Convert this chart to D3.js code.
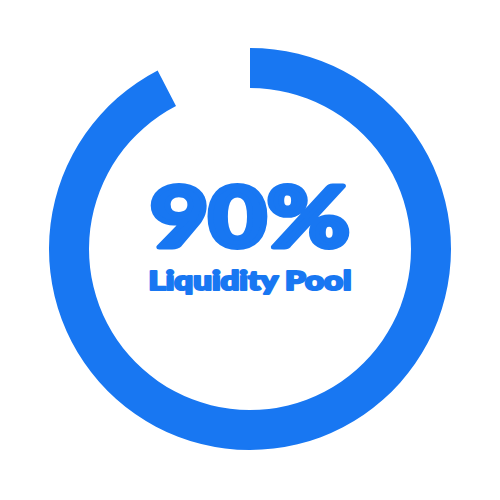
<!DOCTYPE html>
<html><head><meta charset="utf-8">
<script src="https://cdn.jsdelivr.net/npm/d3@7"></script>
<style>html,body{margin:0;padding:0;background:#fff;}svg{display:block;}</style>
</head><body>
<svg id="chart" width="500" height="500"></svg>
<script>
// data
const valueLabels = ["90%"];
const titles = ["Liquidity Pool"];
const arcValues = [92.4];   // filled portion of the ring as drawn (of 100)
const domainMax = [100];

const svg = d3.select("#chart");
const cx = 250, cy = 249, rOuter = 201, rInner = 161;
const color = "#1877F2";

const angle = d3.scaleLinear().domain([0, domainMax[0]]).range([0, 2 * Math.PI]);
const arc = d3.arc().innerRadius(rInner).outerRadius(rOuter).startAngle(0);

const g = svg.append("g").attr("transform", `translate(${cx},${cy})`);
g.selectAll("path.ring").data(arcValues).join("path")
  .attr("class", "ring")
  .attr("d", d => arc({endAngle: angle(d)}))
  .attr("fill", color);

g.selectAll("text.val").data(valueLabels).join("text")
  .attr("class", "val")
  .attr("x", 0).attr("y", -2)
  .attr("text-anchor", "middle")
  .attr("font-family", "Lato, sans-serif")
  .attr("font-weight", 900)
  .attr("font-size", 84)
  .attr("textLength", 200)
  .attr("lengthAdjust", "spacingAndGlyphs")
  .attr("fill", color)
  .attr("stroke", color)
  .attr("stroke-width", 5)
  .attr("stroke-linejoin", "round")
  .text(d => d);

g.selectAll("text.title").data(titles).join("text")
  .attr("class", "title")
  .attr("x", 0).attr("y", 41)
  .attr("text-anchor", "middle")
  .attr("font-family", "Lato, sans-serif")
  .attr("font-weight", 900)
  .attr("font-size", 26)
  .attr("textLength", 203)
  .attr("lengthAdjust", "spacingAndGlyphs")
  .attr("fill", color)
  .attr("stroke", color)
  .attr("stroke-width", 2.2)
  .attr("stroke-linejoin", "round")
  .text(d => d);
</script>
</body></html>
